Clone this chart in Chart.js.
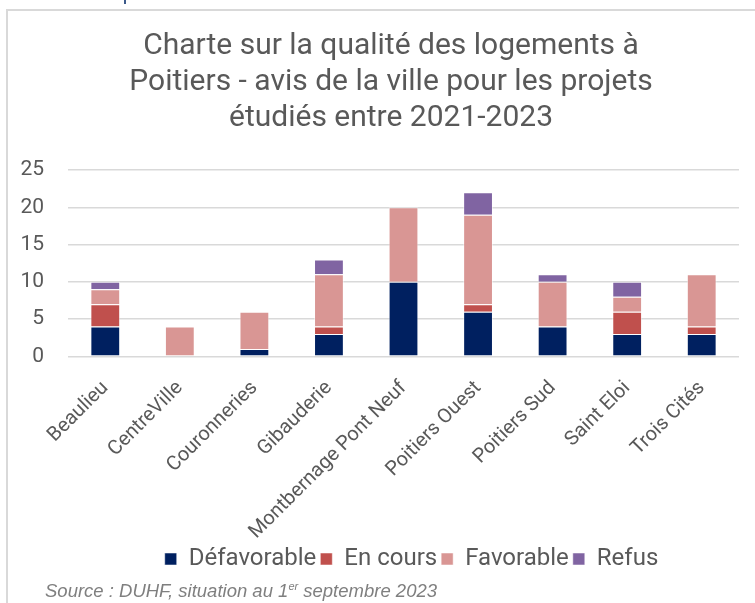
<!DOCTYPE html>
<html>
<head>
<meta charset="utf-8">
<script src="https://cdn.jsdelivr.net/npm/chart.js@4"></script>
<style>
    body { margin: 0; background: #fff; width: 755px; height: 603px; overflow: hidden; position: relative; }
    #frame { position: absolute; left: 6px; top: 9px; width: 760px; height: 600px;
             border-left: 2px solid #d9d9d9; border-top: 2px solid #d9d9d9; }
    #cut { position: absolute; left: 124px; top: 0; width: 2px; height: 4px; background: #3b5a8a; }
    #wrap { position: absolute; left: 8px; top: 11px; width: 747px; height: 570px; }
    #source { position: absolute; left: 45px; top: 580px; font: italic 18.5px "Liberation Sans", Arial, sans-serif; color: #7f7f7f; }
    #source sup { font-size: 11px; }
</style>
</head>
<body>
<div id="cut"></div>
<div id="frame"></div>
<div id="wrap"><canvas id="reportChart"></canvas></div>
<div id="source">Source : DUHF, situation au 1<sup>er</sup> septembre 2023</div>
<script>
// Quartiers
const categories = ['Beaulieu', 'CentreVille', 'Couronneries', 'Gibauderie', 'Montbernage Pont Neuf',
                    'Poitiers Ouest', 'Poitiers Sud', 'Saint Eloi', 'Trois Cités'];

// Avis par quartier
const defavorable = [4, 0, 1, 3, 10, 6, 4, 3, 3];
const enCours     = [3, 0, 0, 1, 0, 1, 0, 3, 1];
const favorable   = [2, 4, 5, 7, 10, 12, 6, 2, 7];
const refus       = [1, 0, 0, 2, 0, 3, 1, 2, 0];

const yTicks = [0, 5, 10, 15, 20, 25];

const textColor = '#595959';
const font = 'Roboto';

function makeSet(label, data, color) {
    return {
        label: label,
        data: data,
        backgroundColor: color,
        borderColor: 'rgba(255,255,255,0.5)',
        borderWidth: 1,
        barPercentage: 0.4,
        categoryPercentage: 1
    };
}

// title and legend are centred on the whole frame, a bit right of the plot
const shiftBlocks = {
    id: 'shiftBlocks',
    afterLayout(chart) {
        if (chart.titleBlock) chart.titleBlock.left = 35;
        if (chart.legend) {
            chart.legend.left += 33;
            chart.legend.right += 33;
        }
    }
};

const ctx = document.getElementById('reportChart');
new Chart(ctx, {
    type: 'bar',
    data: {
        labels: categories,
        datasets: [
            makeSet('Défavorable', defavorable, '#002060'),
            makeSet('En cours', enCours, '#C0504D'),
            makeSet('Favorable', favorable, '#D99694'),
            makeSet('Refus', refus, '#8064A2')
        ]
    },
    plugins: [shiftBlocks],
    options: {
        responsive: true,
        maintainAspectRatio: false,
        animation: false,
        layout: { padding: { left: 10, right: 16, top: 0, bottom: 0 } },
        plugins: {
            title: {
                display: true,
                text: ['Charte sur la qualité des logements à',
                       'Poitiers - avis de la ville pour les projets',
                       'étudiés entre 2021-2023'],
                color: textColor,
                font: { family: font, size: 30, weight: 'normal' },
                lineHeight: 1.2,
                padding: { top: 17, bottom: 34 }
            },
            legend: {
                position: 'bottom',
                labels: {
                    color: textColor,
                    font: { family: font, size: 24 },
                    boxWidth: 12,
                    boxHeight: 12,
                    padding: 4
                }
            },
            tooltip: { enabled: false }
        },
        scales: {
            x: {
                stacked: true,
                grid: { display: false },
                border: { display: false },
                afterFit: axis => {
                    axis.height -= 13;
                    axis.paddingLeft = 0;
                    axis.paddingRight = 0;
                },
                ticks: {
                    color: textColor,
                    font: { family: font, size: 20 },
                    maxRotation: 45,
                    minRotation: 45,
                    padding: 12
                }
            },
            y: {
                stacked: true,
                min: 0,
                max: 25,
                afterBuildTicks: axis => { axis.ticks = yTicks.map(v => ({ value: v })); },
                afterFit: axis => { axis.width = 50; },
                grid: { color: '#d9d9d9', lineWidth: 1.5, drawTicks: false },
                border: { display: false },
                ticks: {
                    color: textColor,
                    font: { family: font, size: 21 },
                    padding: 24
                }
            }
        }
    }
});
</script>
</body>
</html>
